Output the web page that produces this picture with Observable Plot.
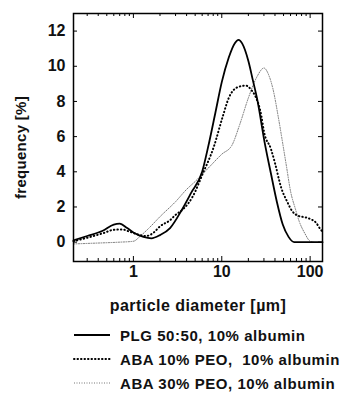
<!DOCTYPE html>
<html><head><meta charset="utf-8">
<script src="https://cdn.jsdelivr.net/npm/d3@7"></script>
<script src="https://cdn.jsdelivr.net/npm/@observablehq/plot@0.6"></script>
<style>
body{margin:0;background:#fff;font-family:"Liberation Sans",Arial,sans-serif;}
#legend{padding-top:7px;}
.row{display:flex;align-items:center;height:24px;font-size:15px;font-weight:bold;letter-spacing:0.55px;color:#111;}
.row svg{margin-left:73px;margin-right:9px;}
.xlab text{letter-spacing:0.45px;}
.ylab text{letter-spacing:0.3px;}
</style></head>
<body><div id="chart"></div><div id="legend"></div>
<script>
// particle diameter (µm) / frequency (%)
const plgX = [0.21,0.3,0.45,0.6,0.7,0.85,1.0,1.3,1.6,2.0,2.6,3.5,4.5,6,7,8.5,10,12,14,15.5,17,20,22.5,25,31,36,42,49,57,66,80,100,138];
const plgY = [0.1,0.35,0.65,1.0,1.05,0.8,0.55,0.3,0.22,0.4,0.8,1.8,2.8,4.0,5.4,7.4,9.1,10.5,11.3,11.5,11.3,10.3,9.2,8.2,5.5,3.9,2.3,1.0,0.3,0,0,0,0];
const aba10X = [0.21,0.3,0.45,0.6,0.75,0.9,1.1,1.4,1.7,2.0,2.6,3.0,3.7,4.7,6.1,8.1,10.2,12,15,18.7,22,24,28,30,36,40,47,55,62,73,90,102,117,130,138];
const aba10Y = [0.05,0.25,0.5,0.7,0.72,0.6,0.45,0.35,0.55,0.9,1.25,1.55,1.9,2.6,3.9,5.4,7.1,8.2,8.8,8.9,8.6,8.3,7.2,6.3,5.3,4.5,3.1,2.3,1.8,1.5,1.4,1.3,1.1,0.75,0.6];
const aba30X = [0.21,0.4,0.7,1.0,1.2,1.5,2,3,4,5,7,10,13,16,20,25,30,34,38,44,49,54,60,68,75,87,100,110];
const aba30Y = [-0.1,-0.05,0.0,0.05,0.35,0.8,1.45,2.3,3.0,3.45,4.2,5.0,5.5,6.7,8.2,9.4,9.9,9.5,8.7,7.0,5.6,4.3,2.9,1.9,1.2,0.5,0.05,0];
const seriesNames = ["PLG 50:50, 10% albumin","ABA 10% PEO,\u00a0 10% albumin","ABA 30% PEO, 10% albumin"];
const xTicks = [1,10,100];
const yTicks = [0,2,4,6,8,10,12];
const xMinor = [0.3,0.4,0.5,0.6,0.7,0.8,0.9,2,3,4,5,6,7,8,9,20,30,40,50,60,70,80,90];

const rows = (xs, ys) => xs.map((x,i)=>({x, y: ys[i]}));
const plg = rows(plgX, plgY), aba10 = rows(aba10X, aba10Y), aba30 = rows(aba30X, aba30Y);

const W=358, H=316, mt=13, mb=55, ml=73, mr=36;
const fh = H-mt-mb, fw = W-ml-mr;
const styles = [
  {stroke:"#000", strokeWidth:1.8},
  {stroke:"#000", strokeWidth:2, strokeDasharray:"0.5,3", strokeLinecap:"round"},
  {stroke:"#777", strokeWidth:1, strokeDasharray:"1,1.5"}
];

const chart = Plot.plot({
  width: W, height: H, marginTop: mt, marginBottom: mb, marginLeft: ml, marginRight: mr,
  style: {fontFamily:"Liberation Sans, Arial, sans-serif", fontSize:"16px", fontWeight:"bold", color:"#111"},
  x: {type:"log", domain:[0.21,138]},
  y: {domain:[-1.1,13]},
  marks: [
    Plot.line(aba30, {x:"x", y:"y", curve:"monotone-x", ...styles[2]}),
    Plot.line(aba10, {x:"x", y:"y", curve:"monotone-x", ...styles[1]}),
    Plot.line(plg, {x:"x", y:"y", curve:"monotone-x", ...styles[0]}),
    Plot.frame({stroke:"#000", strokeWidth:1.5}),
    Plot.ruleX(xMinor, {insetTop: fh-3, stroke:"#000"}),
    Plot.ruleX(xMinor, {insetBottom: fh-3, stroke:"#000"}),
    Plot.ruleX(xTicks, {insetTop: fh-5, stroke:"#000"}),
    Plot.ruleX(xTicks, {insetBottom: fh-5, stroke:"#000"}),
    Plot.ruleY(yTicks, {insetRight: fw-4, stroke:"#000"}),
    Plot.ruleY(yTicks, {insetLeft: fw-4, stroke:"#000"}),
    Plot.axisX({ticks: xTicks, tickFormat: d=>String(d), tickSize:0, tickPadding:4, label:null}),
    Plot.axisY({ticks: yTicks, tickSize:0, tickPadding:8, label:null}),
    Plot.text(["particle diameter [µm]"], {frameAnchor:"bottom", lineAnchor:"middle", dy:44, fontSize:16, fontWeight:"bold", fill:"#111", className:"xlab"}),
    Plot.text(["frequency [%]"], {frameAnchor:"left", textAnchor:"middle", dx:-52, dy:10, rotate:-90, fontSize:15, fontWeight:"bold", fill:"#111", className:"ylab"})
  ]
});
document.getElementById("chart").appendChild(chart);

const legend = document.getElementById("legend");
seriesNames.forEach((name, i) => {
  const s = styles[i];
  const row = document.createElement("div");
  row.className = "row";
  row.innerHTML = `<svg width="38" height="10"><line x1="1" x2="37" y1="5" y2="5" stroke="${s.stroke}" stroke-width="${s.strokeWidth}" ${s.strokeDasharray?`stroke-dasharray="${s.strokeDasharray}"`:""} ${s.strokeLinecap?`stroke-linecap="${s.strokeLinecap}"`:""}/></svg><span>${name}</span>`;
  legend.appendChild(row);
});
</script></body></html>
